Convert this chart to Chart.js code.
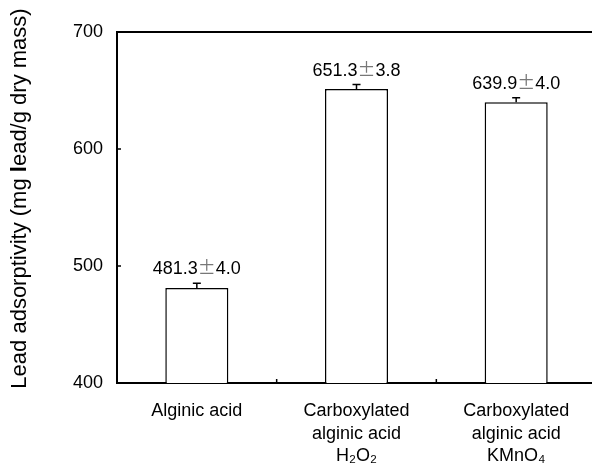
<!DOCTYPE html>
<html>
<head>
<meta charset="utf-8">
<script src="https://cdn.jsdelivr.net/npm/chart.js@4.4.0/dist/chart.umd.min.js"></script>
<style>
  html, body { margin: 0; padding: 0; background: #fff; overflow: hidden; }
  canvas { display: block; }
</style>
</head>
<body>
<canvas id="grafico" width="600" height="467"></canvas>
<script>
const categorias = [
  ['Alginic acid'],
  ['Carboxylated', 'alginic acid', 'H₂O₂'],
  ['Carboxylated', 'alginic acid', 'KMnO₄']
];
const adsorcion = [481.3, 651.3, 639.9];
const errores = [4.0, 3.8, 4.0];
const ticksY = [400, 500, 600, 700];

const FUENTE = '"Liberation Sans", Arial, sans-serif';
const FUENTE_PM = '"Noto Sans CJK JP", "Liberation Sans", sans-serif';

// draws a list of [text, font, color] pieces centred on x
function textoPartes(ctx, partes, x, y) {
  let total = 0;
  partes.forEach(p => { ctx.font = p[1]; total += ctx.measureText(p[0]).width; });
  let pos = x - total / 2;
  ctx.textAlign = 'left';
  partes.forEach(p => {
    ctx.font = p[1];
    ctx.fillStyle = p[2];
    ctx.fillText(p[0], pos, y);
    pos += ctx.measureText(p[0]).width;
  });
}

// error bars, value labels, inward ticks, top border and y title
const extras = {
  id: 'extras',
  afterDatasetsDraw(chart) {
    const ctx = chart.ctx;
    const x = chart.scales.x;
    const y = chart.scales.y;
    const area = chart.chartArea;
    const meta = chart.getDatasetMeta(0);

    ctx.save();
    ctx.strokeStyle = '#000';
    ctx.fillStyle = '#000';
    ctx.textBaseline = 'alphabetic';

    // error bars + labels
    meta.data.forEach((bar, i) => {
      const yTop = y.getPixelForValue(adsorcion[i] + errores[i]);
      ctx.lineWidth = 1.5;
      ctx.beginPath();
      ctx.moveTo(bar.x, bar.y);
      ctx.lineTo(bar.x, yTop);
      ctx.moveTo(bar.x - 4, yTop);
      ctx.lineTo(bar.x + 4, yTop);
      ctx.stroke();

      textoPartes(ctx, [
        [adsorcion[i].toFixed(1), '18px ' + FUENTE, '#000'],
        ['±', '18px ' + FUENTE_PM, '#777'],
        [errores[i].toFixed(1), '18px ' + FUENTE, '#000']
      ], bar.x, yTop - 9);
    });

    // top border
    ctx.lineWidth = 2;
    ctx.beginPath();
    ctx.moveTo(area.left, area.top);
    ctx.lineTo(area.right + 10, area.top);
    ctx.stroke();

    // inward ticks
    ctx.lineWidth = 1.5;
    ctx.beginPath();
    ticksY.forEach(v => {
      const py = y.getPixelForValue(v);
      ctx.moveTo(area.left, py);
      ctx.lineTo(area.left + 4, py);
    });
    for (let i = 0; i < categorias.length; i++) {
      const px = (x.getPixelForValue(i) + x.getPixelForValue(i + 1)) / 2;
      ctx.moveTo(px, area.bottom);
      ctx.lineTo(px, area.bottom - 4);
    }
    ctx.stroke();

    // y title (the "l" of lead is bold in the original)
    ctx.translate(26, (area.top + area.bottom) / 2 - 9);
    ctx.rotate(-Math.PI / 2);
    textoPartes(ctx, [
      ['Lead adsorptivity (mg ', '22px ' + FUENTE, '#000'],
      ['l', 'bold 22px ' + FUENTE, '#000'],
      ['ead/g dry mass)', '22px ' + FUENTE, '#000']
    ], 0, 0);
    ctx.restore();
  }
};

new Chart(document.getElementById('grafico').getContext('2d'), {
  type: 'bar',
  data: {
    labels: categorias,
    datasets: [{
      data: adsorcion,
      backgroundColor: '#fff',
      borderColor: '#000',
      borderWidth: 1.5,
      borderSkipped: false,
      barPercentage: 0.395,
      categoryPercentage: 1
    }]
  },
  options: {
    responsive: false,
    animation: false,
    layout: { padding: { top: 32, right: 4, left: 0, bottom: 0 } },
    plugins: {
      legend: { display: false },
      tooltip: { enabled: false }
    },
    scales: {
      x: {
        grid: { display: false, drawTicks: false },
        border: { display: true, color: '#000', width: 2 },
        ticks: {
          color: '#000',
          padding: 17,
          maxRotation: 0,
          autoSkip: false,
          font: { family: FUENTE, size: 18, lineHeight: 1.25 }
        },
        afterFit(scale) { scale.height = 84; }
      },
      y: {
        min: 400,
        max: 700,
        grid: { display: false, drawTicks: false },
        border: { display: true, color: '#000', width: 2 },
        ticks: {
          stepSize: 100,
          color: '#000',
          padding: 14,
          font: { family: FUENTE, size: 18 }
        },
        afterFit(scale) { scale.width = 117; }
      }
    }
  },
  plugins: [extras]
});
</script>
</body>
</html>
